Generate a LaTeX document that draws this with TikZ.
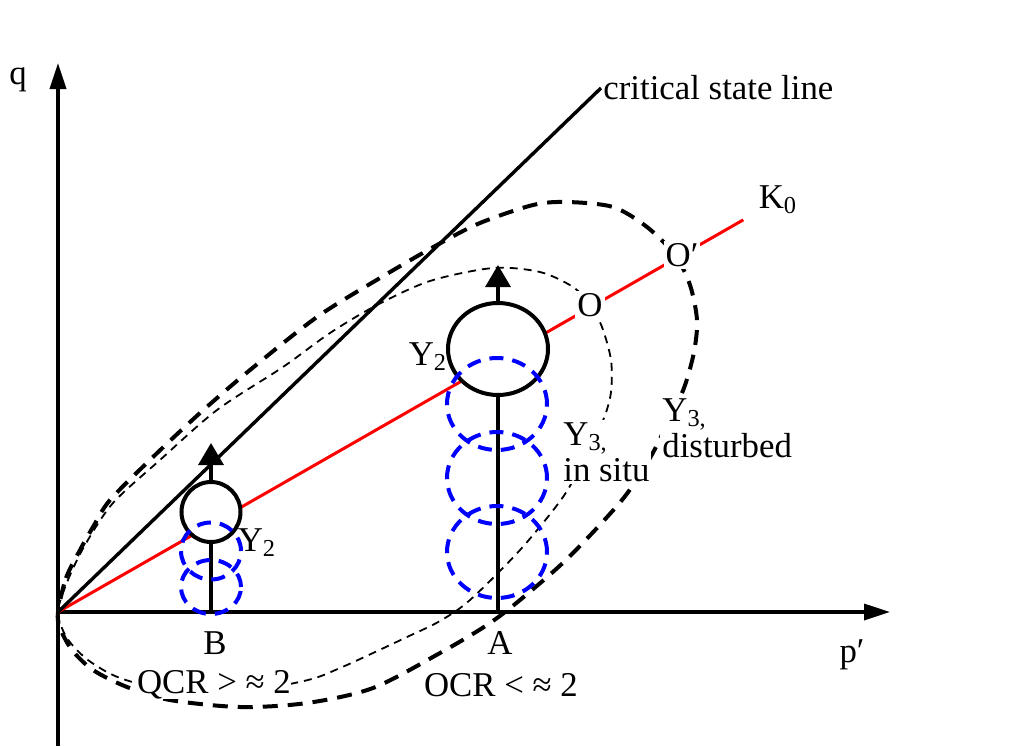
\documentclass[tikz,border=0pt]{standalone}
\usepackage{fontspec}
\setmainfont{Liberation Serif}
\usetikzlibrary{arrows.meta,shapes.geometric}

\begin{document}
\begin{tikzpicture}[x=0.5pt, y=-0.5pt,
    every node/.style={font=\fontsize{17.4pt}{18pt}\selectfont},
    axis/.style={line width=1.7pt, -{Triangle[width=8pt,length=13pt]}},
    yieldbox/.style={draw, ellipse, line width=2pt, fill=white, inner sep=0pt},
    lift/.style={line width=1.7pt, -{Triangle[width=12.5pt,length=11pt]}},
    bluedash/.style={blue, line width=2pt, dash pattern=on 7pt off 4.5pt},
    bigdash/.style={line width=2pt, dash pattern=on 7.5pt off 5pt},
    thindash/.style={line width=0.9pt, dash pattern=on 4pt off 3pt},
    lab/.style={fill=white, inner sep=1pt}]
  \useasboundingbox (0,0) rectangle (1029,746);

  % axes
  \coordinate (O) at (58,612);
  \coordinate (qbot) at (58,746);
  \coordinate (qtip) at (58,63);
  \coordinate (ptip) at (890,612);
  \draw[axis] (qbot) -- (qtip);
  \draw[axis] (O) -- (ptip);
  \node (qlab) at (18,80) {q};
  \node (plab) at (852,655) {p′};

  % K0 line and critical state line
  \node (k0) at (778,200) {K\textsubscript{0}};
  \draw[red, line width=1.5pt, shorten >=20pt] (O) -- (k0.center);
  \node (csl) [anchor=west, inner sep=1pt] at (601,88) {critical state line};
  \draw[line width=1.7pt] (O) -- (csl.west);

  % yield surfaces
  \draw[bigdash] plot[smooth cycle] coordinates {(58,612) (66,578) (80,550)
    (93,527) (110,500) (153,457) (200,413) (250,370) (317,317) (380,278)
    (437,245) (480,223) (533,205) (567,202) (613,207) (647,227) (675,255)
    (690,285) (697,320) (694,352) (684,388) (668,422) (650,458) (622,500)
    (568,558) (520,600) (487,625) (440,653) (373,688) (307,703) (240,707)
    (170,700) (127,687) (93,670) (72,650) (60,628)};
  \draw[thindash] plot[smooth cycle] coordinates {(58,612) (68,580) (85,545)
    (113,503) (160,460) (217,410) (283,367) (330,333) (377,305) (430,281)
    (493,268) (540,272) (573,287) (590,305) (602,327) (611,360) (611,392)
    (604,418) (588,452) (563,497) (520,550) (470,600) (440,621) (407,637)
    (373,653) (340,668) (308,680) (240,692) (170,690) (120,678) (88,660)
    (67,638)};

  % element A
  \coordinate (A) at (498,612);
  \coordinate (tipA) at (498,265);
  \node (yA) [yieldbox, minimum width=50pt, minimum height=46pt] at (498,349) {};
  \draw[line width=1.7pt] (A) -- (yA.south);
  \draw[bluedash] (497,404) ellipse [x radius=25pt, y radius=23pt];
  \draw[bluedash] (497,478) ellipse [x radius=25pt, y radius=23pt];
  \draw[bluedash] (497,552) ellipse [x radius=25pt, y radius=23pt];
  \draw[lift] (yA.north) -- (tipA);

  % element B
  \coordinate (B) at (211,612);
  \coordinate (tipB) at (211,443);
  \node (yB) [yieldbox, minimum width=29.5pt, minimum height=30pt] at (211,512) {};
  \draw[line width=1.7pt] (B) -- (yB.south);
  \draw[bluedash] (211,551) ellipse [x radius=15pt, y radius=14.25pt];
  \draw[bluedash] (211,587) ellipse [x radius=15pt, y radius=13.5pt];
  \draw[lift] (yB.north) -- (tipB);

  % labels
  \node (Olab) [lab] at (590,305) {O};
  \node (Oplab) [lab] at (682,255) {O′};
  \node (y2a) at (428,357) {Y\textsubscript{2}};
  \node (y2b) at (257,543) {Y\textsubscript{2}};
  \node (y3in) [lab, anchor=north west, align=left] at (561,420) {Y\textsubscript{3,}\\in situ};
  \node (y3dis) [lab, anchor=north west, align=left] at (660,396) {Y\textsubscript{3,}\\disturbed};
  \node (Blab) at (215,643) {B};
  \node (Alab) at (500,643) {A};
  \node (qcr) [lab, inner sep=0pt] at (214,685) {QCR > ≈ 2};
  \node (ocr) [lab, inner sep=0pt] at (501,685) {OCR < ≈ 2};
\end{tikzpicture}
\end{document}
